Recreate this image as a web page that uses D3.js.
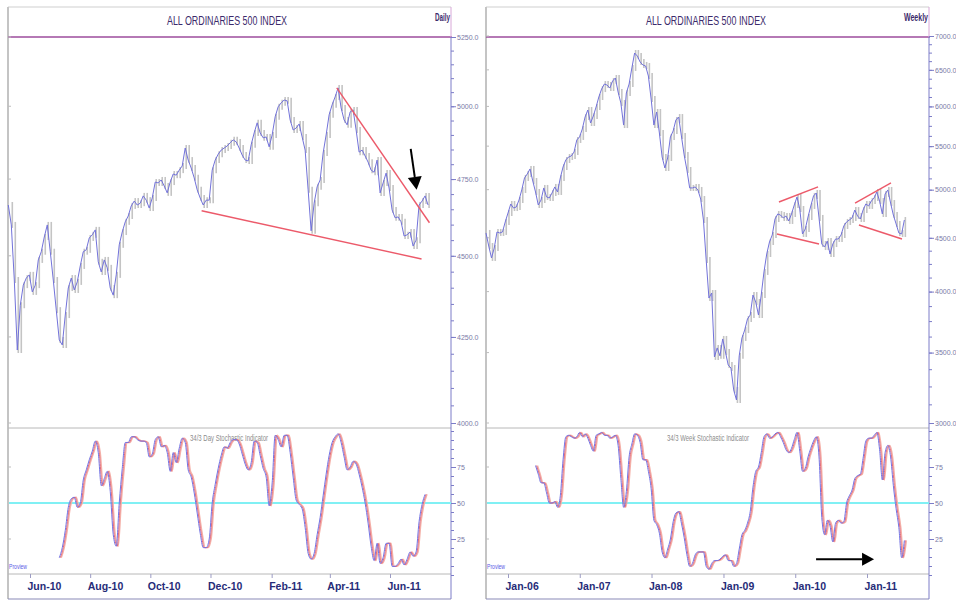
<!DOCTYPE html>
<html>
<head>
<meta charset="utf-8">
<script src="https://cdn.jsdelivr.net/npm/d3@7"></script>
<style>
  body { margin: 0; background: #fff; }
  svg { display: block; }
  text { font-family: "Liberation Sans Narrow", "Arial Narrow", "Liberation Sans", sans-serif; }
</style>
</head>
<body>
<script>
// ---- daily chart: closes sampled about every 3 calendar days from 10 May 2010
const dailyStart = "2010-05-10";
const dailyStepDays = 3.04;
const dailyClose = [
  4664, 4599, 4424, 4211, 4346, 4408, 4430, 4440, 4387, 4408,
  4487, 4513, 4560, 4599, 4513, 4424, 4331, 4241, 4226, 4316,
  4399, 4430, 4393, 4418, 4468, 4513, 4519, 4557, 4567, 4583,
  4481, 4449, 4487, 4462, 4399, 4377, 4440, 4535, 4576, 4609,
  4628, 4661, 4677, 4664, 4670, 4694, 4680, 4654, 4687, 4740,
  4737, 4747, 4727, 4704, 4740, 4767, 4763, 4780, 4794, 4855,
  4814, 4787, 4754, 4714, 4687, 4664, 4680, 4680, 4780, 4814,
  4834, 4848, 4855, 4862, 4873, 4883, 4876, 4855, 4831, 4814,
  4811, 4866, 4907, 4942, 4907, 4890, 4893, 4859, 4900, 4963,
  4998, 5012, 5022, 5019, 4952, 4917, 4924, 4938, 4893, 4848,
  4714, 4580, 4670, 4724, 4747, 4838, 4900, 4970, 5005, 5033,
  5065, 4994, 4952, 4935, 4980, 4987, 4917, 4841, 4848, 4828,
  4807, 4780, 4773, 4814, 4704, 4737, 4770, 4720, 4648, 4622,
  4625, 4609, 4563, 4567, 4576, 4531, 4550, 4664, 4677, 4694,
  4664
];
// stochastic starts at the 18th daily sample
const dailyStochOffset = 17;
const dailyStoch = [
  12, 19, 31, 47, 53, 54, 47, 50, 66, 73,
  80, 86, 93, 85, 62, 67, 72, 58, 28, 20,
  50, 74, 92, 92, 96, 96, 94, 93, 93, 92,
  82, 84, 94, 96, 89, 90, 85, 72, 85, 78,
  88, 95, 92, 73, 68, 57, 43, 29, 19, 19,
  25, 50, 63, 74, 83, 89, 88, 92, 94, 94,
  91, 84, 77, 73, 78, 93, 92, 83, 74, 68,
  48, 64, 97, 94, 89, 97, 97, 85, 68, 52,
  49, 46, 33, 15, 11, 15, 28, 40, 55, 70,
  83, 92, 96, 98, 92, 82, 73, 75, 79, 77,
  70, 61, 50, 36, 20, 10, 22, 8, 12, 22,
  22, 6, 6, 8, 11, 7, 11, 16, 13, 16,
  37, 49, 56
];
const dailyTicks = ["2010-06-01", "2010-08-01", "2010-10-01", "2010-12-01", "2011-02-01", "2011-04-01", "2011-06-01"];
const dailyPriceTicks = [4000, 4250, 4500, 4750, 5000, 5250];
const dailyTrend = [
  [["2011-04-08", 5065], ["2011-07-11", 4606]],
  [["2010-11-22", 4645], ["2011-07-03", 4490]]
];
const dailyArrow = [["2011-06-22", 4852], ["2011-06-28", 4714]];

// ---- weekly chart: closes every second week from 11 Sep 2005
const weeklyStart = "2005-09-11";
const weeklyStepDays = 14;
const weeklyClose = [
  4548, 4420, 4306, 4400, 4558, 4548, 4558, 4659, 4751, 4846,
  4803, 4814, 4888, 4997, 5130, 5175, 5232, 5096, 4975, 4835,
  4888, 5019, 4921, 4910, 4964, 5030, 4975, 5130, 5255, 5336,
  5371, 5383, 5430, 5575, 5612, 5711, 5862, 5953, 5786, 5875,
  5992, 6125, 6232, 6301, 6287, 6246, 6343, 6385, 6192, 6045,
  5760, 6179, 6301, 6527, 6744, 6699, 6613, 6570, 6555, 6413,
  6098, 5760, 5927, 5661, 5371, 5243, 5359, 5612, 5686, 5824,
  5862, 5624, 5395, 5220, 5019, 5019, 5030, 4997, 4899, 4679,
  4287, 3944, 3988, 3467, 3536, 3475, 3606, 3505, 3406, 3384,
  3225, 3155, 3475, 3614, 3677, 3767, 3800, 3970, 3910, 3800,
  3970, 4176, 4343, 4459, 4528, 4689, 4741, 4730, 4700, 4720,
  4669, 4741, 4835, 4921, 4793, 4538, 4588, 4710, 4825, 4932,
  4964, 4700, 4439, 4410, 4468, 4343, 4439, 4488, 4488, 4528,
  4618, 4659, 4679, 4700, 4782, 4720, 4689, 4782, 4846, 4825,
  4877, 4910, 4975, 4877, 4741, 4953, 4997, 4856, 4730, 4639,
  4548, 4538, 4679
];
const weeklyStochOffset = 18;
const weeklyStoch = [
  76, 70, 64, 64, 57, 50, 50, 51, 47, 55,
  80, 96, 97, 96, 95, 96, 99, 96, 98, 95,
  90, 86, 97, 98, 99, 97, 97, 95, 96, 97,
  90, 67, 47, 58, 82, 91, 98, 97, 92, 80,
  80, 72, 60, 38, 35, 29, 16, 12, 18, 25,
  37, 43, 44, 36, 26, 14, 6, 8, 14, 16,
  16, 16, 6, 4, 8, 10, 10, 11, 13, 14,
  10, 10, 6, 8, 18, 28, 31, 36, 44, 61,
  72, 75, 85, 96, 98, 95, 96, 98, 99, 96,
  92, 87, 85, 88, 94, 99, 86, 72, 74, 82,
  88, 93, 96, 82, 40, 28, 38, 34, 23, 36,
  38, 36, 37, 50, 55, 59, 67, 69, 70, 81,
  93, 95, 95, 97, 99, 87, 66, 85, 90, 82,
  62, 46, 33, 12, 24
];
const weeklyTicks = ["2006-01-01", "2007-01-01", "2008-01-01", "2009-01-01", "2010-01-01", "2011-01-01"];
const weeklyPriceTicks = [3000, 3500, 4000, 4500, 5000, 5500, 6000, 6500, 7000];
const weeklyTrend = [
  [["2009-10-10", 4867], ["2010-04-27", 5030]],
  [["2009-09-30", 4538], ["2010-05-02", 4439]],
  [["2010-11-01", 4856], ["2011-05-03", 5074]],
  [["2010-11-21", 4628], ["2011-06-28", 4488]]
];
const weeklyStochArrow = [["2010-04-17", 11], ["2011-02-06", 11]];

const stochLabels = [25, 50, 75];

const parse = d3.timeParse("%Y-%m-%d");

const svg = d3.select("body").append("svg")
    .attr("width", 956)
    .attr("height", 611);

function arrow(g, p0, p1, headLen, headHalf) {
    const dx = p1[0] - p0[0], dy = p1[1] - p0[1];
    const len = Math.hypot(dx, dy);
    const ux = dx / len, uy = dy / len;
    const bx = p1[0] - ux * headLen, by = p1[1] - uy * headLen;
    g.append("line")
        .attr("x1", p0[0]).attr("y1", p0[1])
        .attr("x2", bx).attr("y2", by)
        .attr("stroke", "#000").attr("stroke-width", 2);
    g.append("path")
        .attr("d", `M${p1[0]},${p1[1]}L${bx - uy * headHalf},${by + ux * headHalf}L${bx + uy * headHalf},${by - ux * headHalf}Z`)
        .attr("fill", "#000");
}

function drawPanel(cfg) {
    const g = svg.append("g");
    const x0 = cfg.left, x1 = cfg.right;
    const top = 7, sep = 37, stTop = 428, stBottom = 574, bottom = 599;

    const x = d3.scaleTime().domain(cfg.xDomain.map(parse)).range(cfg.xRange);
    const y = d3.scaleLog().domain(cfg.yDomain).range(cfg.yRange);
    const ys = d3.scaleLinear().domain([0, 100]).range([575, 431]);

    const start = parse(cfg.start);
    const dateAt = i => new Date(start.getTime() + i * cfg.step * 864e5);
    const price = cfg.close.map((v, i) => ({ date: dateAt(i), v }));
    const stoch = cfg.stoch.map((v, i) => ({ date: dateAt(i + cfg.stochOffset), v }));

    // frame
    g.append("line").attr("x1", x0).attr("x2", x1).attr("y1", top).attr("y2", top)
        .attr("stroke", "#cfcfcf");
    g.append("line").attr("x1", x0).attr("x2", x0).attr("y1", top).attr("y2", bottom)
        .attr("stroke", "#c4c4c4").attr("stroke-width", 2);
    g.append("line").attr("x1", x0).attr("x2", x1).attr("y1", stTop).attr("y2", stTop)
        .attr("stroke", "#b8b8b8");
    g.append("line").attr("x1", x0).attr("x2", x1).attr("y1", stBottom).attr("y2", stBottom)
        .attr("stroke", "#b8b8b8");
    g.append("line").attr("x1", x0).attr("x2", x1).attr("y1", bottom).attr("y2", bottom)
        .attr("stroke", "#8a8ab8").attr("stroke-width", 1.2);
    g.append("line").attr("x1", x0).attr("x2", x1 + 1).attr("y1", sep).attr("y2", sep)
        .attr("stroke", "#9c4c9c").attr("stroke-width", 1.5);
    g.append("line").attr("x1", x1).attr("x2", x1).attr("y1", top).attr("y2", sep)
        .attr("stroke", "#d8a8d8");
    g.append("line").attr("x1", x1).attr("x2", x1).attr("y1", sep).attr("y2", bottom)
        .attr("stroke", "#7c7cc8");

    // left edge ticks
    g.selectAll(".lt").data(cfg.priceTicks).enter().append("line")
        .attr("x1", x0).attr("x2", x0 + 3)
        .attr("y1", d => y(d)).attr("y2", d => y(d))
        .attr("stroke", "#bdbdbd");
    g.selectAll(".ls").data([25, 75]).enter().append("line")
        .attr("x1", x0).attr("x2", x0 + 3)
        .attr("y1", d => ys(d)).attr("y2", d => ys(d))
        .attr("stroke", "#bdbdbd");

    // titles
    g.append("text").attr("x", cfg.titleX).attr("y", 25)
        .attr("text-anchor", "middle").attr("font-size", 13)
        .attr("textLength", 120).attr("lengthAdjust", "spacingAndGlyphs")
        .attr("fill", "#3b2a6b").text("ALL ORDINARIES 500 INDEX");
    g.append("text").attr("x", x1 - 1).attr("y", 21)
        .attr("text-anchor", "end").attr("font-size", 10).attr("font-weight", "bold")
        .attr("textLength", cfg.periodLen).attr("lengthAdjust", "spacingAndGlyphs")
        .attr("fill", "#3b2a6b").text(cfg.period);
    g.append("text").attr("x", cfg.titleX + 2).attr("y", 441)
        .attr("text-anchor", "middle").attr("font-size", 8.5)
        .attr("textLength", cfg.stochTitleLen).attr("lengthAdjust", "spacingAndGlyphs")
        .attr("fill", "#8c8c8c").text(cfg.stochTitle);
    g.append("text").attr("x", x0 + 1).attr("y", 569)
        .attr("font-size", 8).attr("textLength", 18).attr("lengthAdjust", "spacingAndGlyphs")
        .attr("fill", "#5a5ae6").text("Proview");

    // price axis
    const lo = cfg.yDomain[0], hi = cfg.yDomain[1];
    const minor = d3.range(lo, hi + 1, cfg.minorStep);
    const pAxisMinor = g.append("g").attr("transform", `translate(${x1},0)`)
        .call(d3.axisRight(y).tickValues(minor).tickSize(3).tickFormat(""));
    const pAxis = g.append("g").attr("transform", `translate(${x1},0)`)
        .call(d3.axisRight(y).tickValues(cfg.priceTicks).tickSize(5).tickPadding(1).tickFormat(d3.format(".1f")));
    const sAxisMinor = g.append("g").attr("transform", `translate(${x1},0)`)
        .call(d3.axisRight(ys).tickValues(d3.range(0, 100.1, 6.25)).tickSize(3).tickFormat(""));
    const sAxis = g.append("g").attr("transform", `translate(${x1},0)`)
        .call(d3.axisRight(ys).tickValues(stochLabels).tickSize(5).tickPadding(1));
    [pAxisMinor, pAxis, sAxisMinor, sAxis].forEach(a => {
        a.select(".domain").remove();
        a.selectAll(".tick line").attr("stroke", "#7c7cc8");
        a.selectAll("text").attr("font-size", 7).attr("fill", "#7a7aa6")
            .attr("font-family", "'Liberation Sans Narrow', 'Liberation Sans', sans-serif");
    });

    // date axis
    const xAxis = g.append("g").attr("transform", `translate(0,${stBottom})`)
        .call(d3.axisBottom(x).tickValues(cfg.ticks.map(parse)).tickSize(4).tickPadding(5)
            .tickFormat(d3.timeFormat("%b-%y")));
    xAxis.select(".domain").remove();
    xAxis.selectAll(".tick line").attr("stroke", "#9c9cc4");
    xAxis.selectAll("text").attr("text-anchor", "start").attr("dx", -3)
        .attr("font-size", 10.5).attr("font-weight", "bold").attr("fill", "#262c78")
        .attr("font-family", "'Liberation Sans Narrow', 'Liberation Sans', sans-serif");

    // price: grey range bars between successive samples, then the close line
    g.selectAll(".bar").data(price.slice(1)).enter().append("line")
        .attr("x1", d => x(d.date) + 1).attr("x2", d => x(d.date) + 1)
        .attr("y1", (d, i) => Math.min(y(d.v), y(price[i].v)) - 3)
        .attr("y2", (d, i) => Math.max(y(d.v), y(price[i].v)) + 3)
        .attr("stroke", "#c4c4c4").attr("stroke-width", 1.6);
    const line = d3.line().x(d => x(d.date)).y(d => y(d.v));
    g.append("path").datum(price)
        .attr("fill", "none").attr("stroke", "#7272da").attr("stroke-width", 1)
        .attr("d", line);

    // trend lines
    cfg.trend.forEach(t => {
        g.append("line")
            .attr("x1", x(parse(t[0][0]))).attr("y1", y(t[0][1]))
            .attr("x2", x(parse(t[1][0]))).attr("y2", y(t[1][1]))
            .attr("stroke", "#ec5a6a").attr("stroke-width", 1.4);
    });

    // stochastic
    g.append("line").attr("x1", x0 + 1).attr("x2", x1).attr("y1", ys(50)).attr("y2", ys(50))
        .attr("stroke", "#80f0f4").attr("stroke-width", 2);
    const sline = d3.line().x(d => x(d.date)).y(d => ys(d.v)).curve(d3.curveMonotoneX);
    g.append("path").datum(stoch)
        .attr("fill", "none").attr("stroke", "#f4b0a8").attr("stroke-width", 1.4)
        .attr("transform", "translate(2,0)").attr("d", sline);
    g.append("path").datum(stoch)
        .attr("fill", "none").attr("stroke", "#e06070").attr("stroke-width", 0.9)
        .attr("transform", "translate(1,0)").attr("d", sline);
    g.append("path").datum(stoch)
        .attr("fill", "none").attr("stroke", "#7474e4").attr("stroke-width", 1)
        .attr("d", sline);

    return { g, x, y, ys };
}

const daily = drawPanel({
    left: 8, right: 451,
    xDomain: ["2010-06-01", "2011-06-01"], xRange: [30, 390],
    yDomain: [4000, 5250], yRange: [423, 37],
    start: dailyStart, step: dailyStepDays,
    close: dailyClose, stoch: dailyStoch, stochOffset: dailyStochOffset,
    ticks: dailyTicks, priceTicks: dailyPriceTicks, minorStep: 50,
    trend: dailyTrend,
    titleX: 227, period: "Daily", periodLen: 15,
    stochTitle: "34/3 Day Stochastic Indicator", stochTitleLen: 78
});
arrow(daily.g,
    [daily.x(parse(dailyArrow[0][0])), daily.y(dailyArrow[0][1])],
    [daily.x(parse(dailyArrow[1][0])), daily.y(dailyArrow[1][1])], 13, 7);

const weekly = drawPanel({
    left: 486, right: 929,
    xDomain: ["2006-01-01", "2011-01-01"], xRange: [508, 867],
    yDomain: [3000, 7000], yRange: [423, 36],
    start: weeklyStart, step: weeklyStepDays,
    close: weeklyClose, stoch: weeklyStoch, stochOffset: weeklyStochOffset,
    ticks: weeklyTicks, priceTicks: weeklyPriceTicks, minorStep: 125,
    trend: weeklyTrend,
    titleX: 706, period: "Weekly", periodLen: 24,
    stochTitle: "34/3 Week Stochastic Indicator", stochTitleLen: 82
});
arrow(weekly.g,
    [weekly.x(parse(weeklyStochArrow[0][0])), weekly.ys(weeklyStochArrow[0][1])],
    [weekly.x(parse(weeklyStochArrow[1][0])), weekly.ys(weeklyStochArrow[1][1])], 12, 6.5);
</script>
</body>
</html>
